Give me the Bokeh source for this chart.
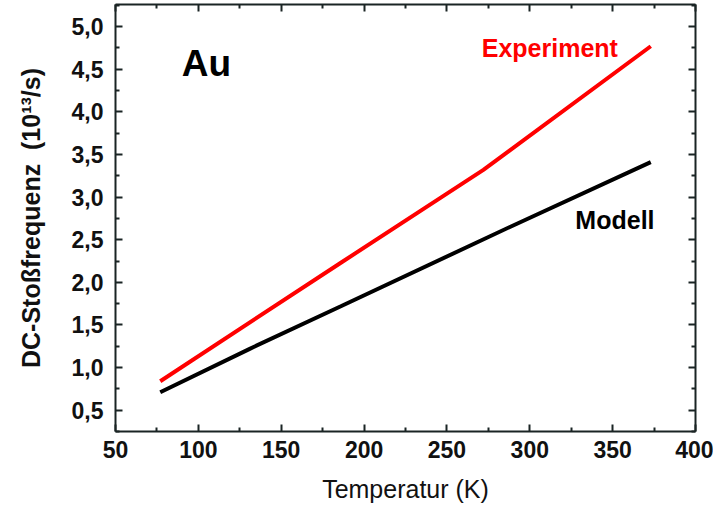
from bokeh.plotting import figure
from bokeh.models import LinearAxis, Range1d, FixedTicker, CustomJSTickFormatter
from bokeh.core.properties import value
from bokeh.embed import file_html
from bokeh.resources import INLINE

# Data
temp_exp = [77, 186, 272, 373]
freq_exp = [0.84, 2.23, 3.32, 4.77]
temp_mod = [77, 131, 186, 288, 373]
freq_mod = [0.71, 1.22, 1.72, 2.65, 3.41]
x_ticks = [50, 100, 150, 200, 250, 300, 350, 400]
y_ticks = [0.5, 1.0, 1.5, 2.0, 2.5, 3.0, 3.5, 4.0, 4.5, 5.0]
x_minor = [75, 125, 175, 225, 275, 325, 375]
y_minor = [0.25, 0.75, 1.25, 1.75, 2.25, 2.75, 3.25, 3.75, 4.25, 4.75, 5.25]

FONT = "Liberation Sans"
AXC = "#1a2424"

p = figure(width=713, height=514, output_backend="svg", toolbar_location=None,
           x_range=Range1d(50, 400), y_range=Range1d(0.25, 5.26),
           min_border_left=115, min_border_right=18, min_border_top=4, min_border_bottom=83,
           x_axis_label="Temperatur (K)",
           y_axis_label="DC-Stoßfrequenz\u00a0\u00a0(10¹³/s)")
p.grid.visible = False
p.outline_line_color = None
p.background_fill_color = "white"
p.border_fill_color = "white"

p.line(temp_exp, freq_exp, line_color="#ff0000", line_width=4)
p.line(temp_mod, freq_mod, line_color="#000000", line_width=4)

p.text(x=[90], y=[4.33], text=["Au"], text_font=value(FONT), text_font_style="bold",
       text_font_size="37px", text_color="#000000")
p.text(x=[271], y=[4.59], text=["Experiment"], text_font=value(FONT), text_font_style="bold",
       text_font_size="25px", text_color="#ff0000")
p.text(x=[327.5], y=[2.565], text=["Modell"], text_font=value(FONT), text_font_style="bold",
       text_font_size="25px", text_color="#000000")

fmt = CustomJSTickFormatter(code="return tick.toFixed(1).replace('.', ',');")

def style(ax, ticks, minor, labels=True):
    ax.ticker = FixedTicker(ticks=ticks, minor_ticks=minor)
    ax.axis_line_width = 2
    ax.axis_line_color = AXC
    ax.major_tick_line_color = AXC
    ax.minor_tick_line_color = AXC
    ax.major_tick_line_width = 2
    ax.minor_tick_line_width = 2
    ax.major_tick_in = 7
    ax.major_tick_out = 0
    ax.minor_tick_in = 4
    ax.minor_tick_out = 0
    ax.major_label_text_font = FONT
    ax.major_label_text_font_style = "bold"
    ax.major_label_text_font_size = "23px"
    ax.major_label_text_color = "#111111"
    if not labels:
        ax.major_label_text_font_size = "0px"
        ax.major_label_text_alpha = 0

xa = p.xaxis[0]
style(xa, x_ticks, x_minor)
xa.major_label_standoff = 9
xa.axis_label_text_font = FONT
xa.axis_label_text_font_style = "normal"
xa.axis_label_text_font_size = "25px"
xa.axis_label_text_color = "#111111"
xa.axis_label_standoff = 14

ya = p.yaxis[0]
style(ya, y_ticks, y_minor)
ya.formatter = fmt
ya.major_label_standoff = 12
ya.axis_label_text_font = FONT
ya.axis_label_text_font_style = "bold"
ya.axis_label_text_font_size = "25px"
ya.axis_label_text_color = "#111111"
ya.axis_label_standoff = 24

top = LinearAxis()
style(top, x_ticks, x_minor, labels=False)
p.add_layout(top, "above")
right = LinearAxis()
style(right, y_ticks, y_minor, labels=False)
p.add_layout(right, "right")

open("out.html", "w").write(file_html(p, INLINE))
